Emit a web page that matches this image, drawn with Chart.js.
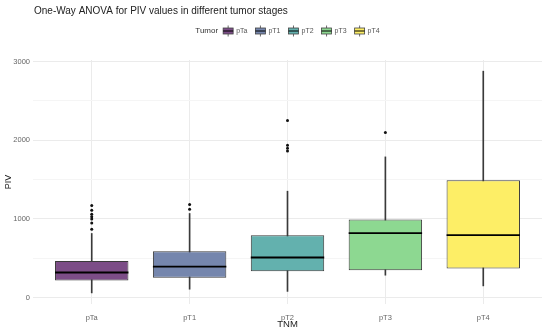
<!DOCTYPE html>
<html>
<head>
<meta charset="utf-8">
<script src="https://cdn.jsdelivr.net/npm/chart.js@4.4.1/dist/chart.umd.min.js"></script>
<style>
  html, body { margin: 0; padding: 0; background: #fff; }
  #wrap { width: 550px; height: 334px; position: relative; }
</style>
</head>
<body>
<div id="wrap"><canvas id="chart"></canvas></div>
<script>
// Tumor stages and their box plot summaries
const categories = ["pTa", "pT1", "pT2", "pT3", "pT4"];
const whiskerLow = [61, 108, 80, 286, 150];
const q1 = [219, 252, 337, 349, 371];
const median = [320, 396, 511, 820, 794];
const q3 = [467, 591, 794, 994, 1493];
const whiskerHigh = [816, 1070, 1353, 1789, 2878];
const outliers = [
  [870, 950, 1000, 1030, 1060, 1110, 1170],
  [1125, 1185],
  [1865, 1900, 1937, 2250],
  [2100],
  []
];
const yTicks = [0, 1000, 2000, 3000];
const colors = ["#7C4D87", "#7586AD", "#63B1AE", "#8DD891", "#FDEE66"];

const titleText = "One-Way ANOVA for PIV values in different tumor stages";
const legendTitle = "Tumor";

// Draw the title above the panel, lined up with the plot's left edge
const titlePlugin = {
  id: "leftTitle",
  afterDraw(chart) {
    const c = chart.ctx;
    c.save();
    c.font = '10px "Liberation Sans", Arial, sans-serif';
    c.fillStyle = "#222";
    c.textBaseline = "middle";
    c.fillText(titleText, chart.chartArea.left + 1, 11);
    c.restore();
  }
};

// ggplot-like legend: title inline, then box glyph keys
const legendPlugin = {
  id: "boxLegend",
  afterDraw(chart) {
    const c = chart.ctx;
    const y = 31;
    const titleFont = '8px "Liberation Sans", Arial, sans-serif';
    const itemFont = '7px "Liberation Sans", Arial, sans-serif';
    const keyW = 10, keyGap = 3, itemGap = 8, titleGap = 5;
    c.save();
    c.font = titleFont;
    const titleW = c.measureText(legendTitle).width;
    c.font = itemFont;
    const widths = categories.map(t => c.measureText(t).width);
    let total = titleW + titleGap;
    widths.forEach((w, i) => { total += keyW + keyGap + w + (i < widths.length - 1 ? itemGap : 0); });
    let x = (chart.chartArea.left + chart.chartArea.right) / 2 - total / 2;

    c.textBaseline = "middle";
    c.fillStyle = "#333";
    c.font = titleFont;
    c.fillText(legendTitle, x, y);
    x += titleW + titleGap;

    c.font = itemFont;
    categories.forEach((t, i) => {
      const cx = x + keyW / 2;
      c.strokeStyle = "#444";
      c.lineWidth = 0.8;
      c.beginPath();
      c.moveTo(cx, y - 5.5); c.lineTo(cx, y - 3);
      c.moveTo(cx, y + 3); c.lineTo(cx, y + 5.5);
      c.stroke();
      c.fillStyle = colors[i];
      c.fillRect(x, y - 3, keyW, 6);
      c.strokeRect(x, y - 3, keyW, 6);
      c.strokeStyle = "#000";
      c.lineWidth = 1;
      c.beginPath();
      c.moveTo(x, y); c.lineTo(x + keyW, y);
      c.stroke();
      x += keyW + keyGap;
      c.fillStyle = "#555";
      c.fillText(t, x, y);
      x += widths[i] + itemGap;
    });
    c.restore();
  }
};

const pos = categories.map((c, i) => i + 1);

const ctx = document.getElementById("chart").getContext("2d");
const chart = new Chart(ctx, {
  type: "bar",
  data: {
    datasets: [
      {
        // whiskers: thin floating bars from low to high
        type: "bar",
        label: "whisker",
        data: pos.map((x, i) => ({ x: x, y: [whiskerLow[i], whiskerHigh[i]] })),
        backgroundColor: "#3a3a3a",
        barThickness: 1,
        grouped: false,
        order: 3
      },
      {
        // boxes: floating bars from q1 to q3
        type: "bar",
        label: "box",
        data: pos.map((x, i) => ({ x: x, y: [q1[i], q3[i]] })),
        backgroundColor: colors,
        borderColor: "#3a3a3a",
        borderWidth: 1,
        borderSkipped: false,
        grouped: false,
        categoryPercentage: 1,
        barPercentage: 0.75,
        order: 2
      },
      {
        // medians as horizontal line markers, as wide as the box
        type: "scatter",
        label: "median",
        data: pos.map((x, i) => ({ x: x, y: median[i] })),
        pointStyle: "line",
        borderColor: "#000",
        borderWidth: 1.8,
        radius: function (c) {
          const sx = c.chart.scales.x;
          return Math.abs(sx.getPixelForValue(1.375) - sx.getPixelForValue(1));
        },
        order: 1
      },
      {
        type: "scatter",
        label: "outliers",
        data: outliers.flatMap((list, i) => list.map(v => ({ x: pos[i], y: v }))),
        pointRadius: 1.5,
        backgroundColor: "#111",
        borderWidth: 0,
        order: 0
      }
    ]
  },
  options: {
    responsive: true,
    maintainAspectRatio: false,
    animation: false,
    layout: { padding: { top: 60, right: 8, bottom: 4, left: 0 } },
    plugins: {
      legend: { display: false },
      tooltip: { enabled: false },
      title: { display: false }
    },
    scales: {
      x: {
        type: "linear",
        min: 0.4,
        max: 5.6,
        offset: false,
        afterFit: s => { s.height = 26; },
        afterBuildTicks: s => { s.ticks = pos.map(v => ({ value: v })); },
        ticks: {
          callback: v => categories[v - 1] || "",
          font: { family: "'Liberation Sans', Arial, sans-serif", size: 7.5 },
          color: "#666",
          padding: 9,
          maxRotation: 0
        },
        grid: { color: "#EBEBEB", offset: false, drawTicks: false },
        border: { display: false },
        title: {
          display: true,
          text: "TNM",
          font: { family: "'Liberation Sans', Arial, sans-serif", size: 9.5 },
          color: "#222",
          padding: 0
        }
      },
      y: {
        min: -80,
        max: 3020,
        afterFit: s => { s.width = 33; },
        afterBuildTicks: s => {
          const t = [];
          yTicks.forEach(v => { t.push({ value: v }); if (v + 500 < 3020) t.push({ value: v + 500 }); });
          s.ticks = t;
        },
        ticks: {
          callback: v => (yTicks.includes(v) ? v : ""),
          font: { family: "'Liberation Sans', Arial, sans-serif", size: 7.5 },
          color: "#666",
          padding: 3
        },
        grid: {
          color: c => (c.tick && yTicks.includes(c.tick.value) ? "#EBEBEB" : "#F5F5F5"),
          drawTicks: false
        },
        border: { display: false },
        title: {
          display: true,
          text: "PIV",
          font: { family: "'Liberation Sans', Arial, sans-serif", size: 9 },
          color: "#222",
          padding: { top: 3, bottom: 0 }
        }
      }
    }
  },
  plugins: [titlePlugin, legendPlugin]
});
</script>
</body>
</html>
